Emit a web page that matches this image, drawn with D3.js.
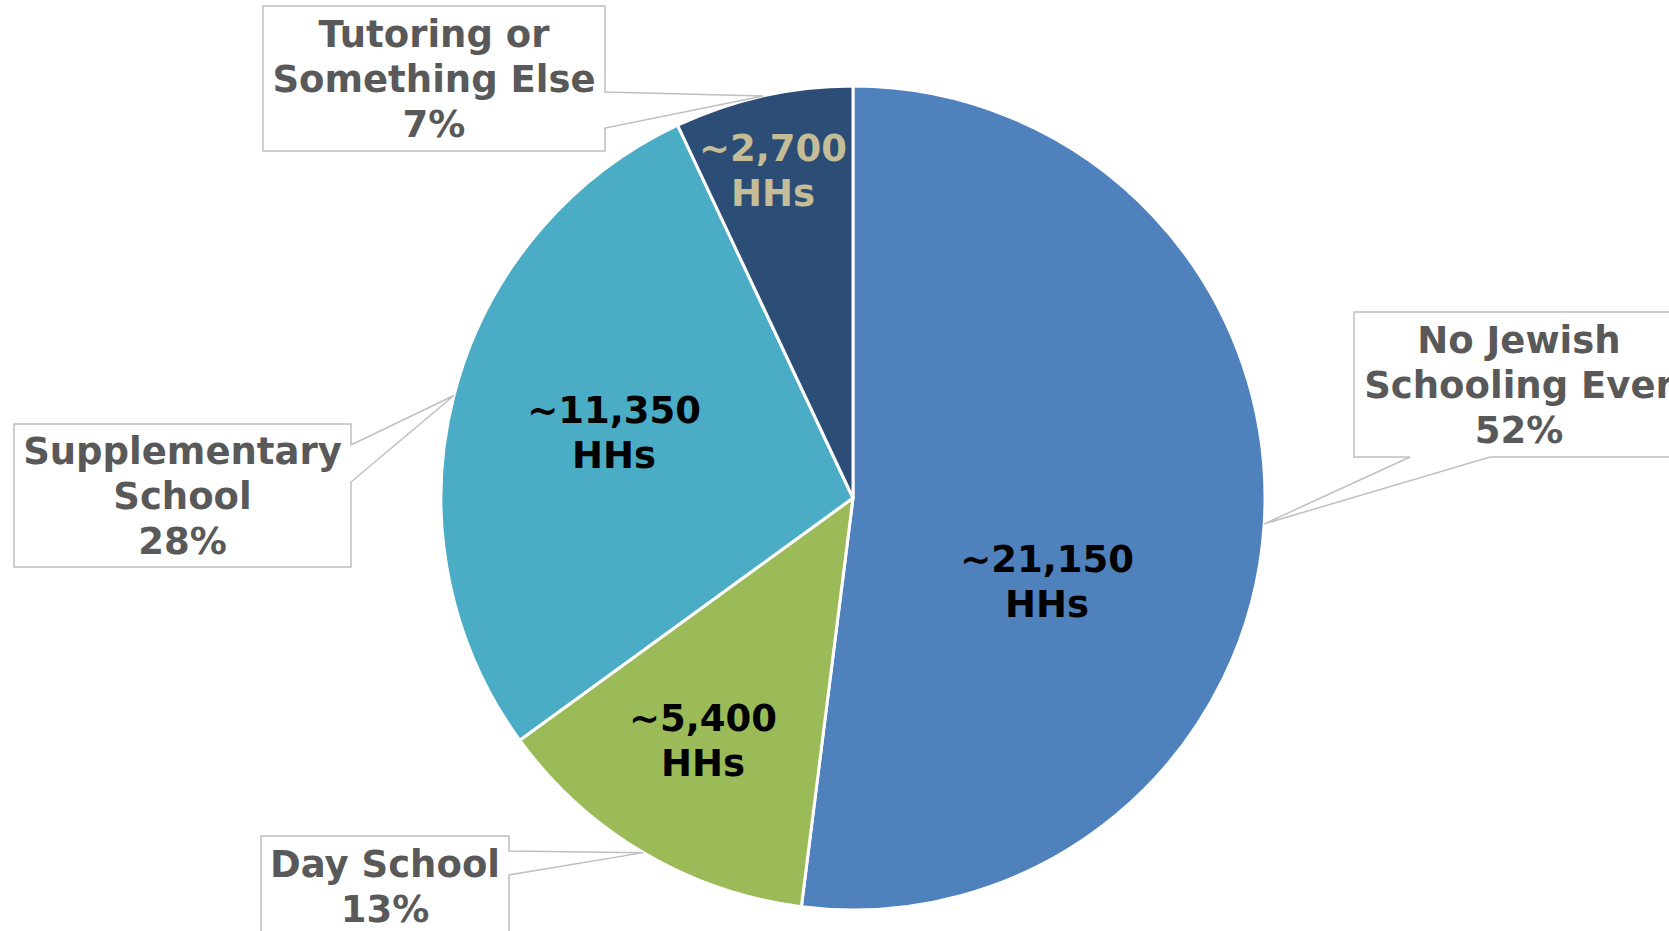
<!DOCTYPE html>
<html>
<head>
<meta charset="utf-8">
<script src="https://cdn.jsdelivr.net/npm/d3@7"></script>
<style>
  html, body { margin: 0; padding: 0; background: #ffffff; overflow: hidden; }
  svg { display: block; }
</style>
</head>
<body>
<svg id="chart" width="1669" height="931"></svg>
<script>
// ---- data ----
const categories = ["No Jewish Schooling Ever", "Day School", "Supplementary School", "Tutoring or Something Else"];
const percentages = [52, 13, 28, 7];
const households = [21150, 5400, 11350, 2700];
const valueLabels = ["~21,150", "~5,400", "~11,350", "~2,700"];
const pctLabels = ["52%", "13%", "28%", "7%"];
const calloutNames = [["No Jewish", "Schooling Ever"], ["Day School"], ["Supplementary", "School"], ["Tutoring or", "Something Else"]];

// ---- styles / layout ----
const colors = ["#4F81BD", "#9BBB59", "#4BACC6", "#2C4D75"];
const valueColors = ["#000000", "#000000", "#000000", "#C4BD97"];
const cx = 853, cy = 498, R = 412;
const fontFamily = "'DejaVu Sans', Verdana, sans-serif";
const fontSize = 37, lineGap = 45;

// value label offsets in units of radius from pie centre
const valueOffsets = [[0.471, 0.201], [-0.364, 0.587], [-0.580, -0.160], [-0.194, -0.796]];
// callout boxes: x, y, w, h, side of pointer, two attach offsets along that side
const callouts = [
  { x: 1354, y: 312, w: 330, h: 145, side: "bottom", a1: 56, a2: 136 },
  { x: 261, y: 836, w: 248, h: 100, side: "right", a1: 15, a2: 39 },
  { x: 14, y: 424, w: 337, h: 143, side: "right", a1: 21, a2: 58 },
  { x: 263, y: 6, w: 342, h: 145, side: "right", a1: 86, a2: 122 }
];

const svg = d3.select("#chart");

const pie = d3.pie().sort(null).value(d => d.value);
const data = categories.map((c, i) => ({ name: c, value: percentages[i], hh: households[i], i }));
const arcs = pie(data);
const arc = d3.arc().innerRadius(0).outerRadius(R);
const tipArc = d3.arc().innerRadius(R).outerRadius(R);

const g = svg.append("g").attr("transform", `translate(${cx},${cy})`);

g.selectAll("path.slice")
  .data(arcs)
  .join("path")
  .attr("class", "slice")
  .attr("d", arc)
  .attr("fill", d => colors[d.data.i])
  .attr("stroke", "#ffffff")
  .attr("stroke-width", 3)
  .attr("stroke-linejoin", "round");

// value labels inside slices
arcs.forEach(d => {
  const i = d.data.i;
  const [ox, oy] = valueOffsets[i];
  const t = g.append("text")
    .attr("x", ox * R)
    .attr("y", oy * R)
    .attr("text-anchor", "middle")
    .attr("font-family", fontFamily)
    .attr("font-weight", "bold")
    .attr("font-size", fontSize)
    .attr("fill", valueColors[i]);
  [valueLabels[i], "HHs"].forEach((line, k) => {
    t.append("tspan")
      .attr("x", ox * R)
      .attr("dy", k === 0 ? (-lineGap / 2 + fontSize * 0.36) : lineGap)
      .text(line);
  });
});

// callouts
arcs.forEach(d => {
  const i = d.data.i;
  const c = callouts[i];
  const [tx0, ty0] = tipArc.centroid(d);
  const tx = tx0 + cx, ty = ty0 + cy;
  let p;
  if (c.side === "right") {
    p = `M${c.x},${c.y}H${c.x + c.w}V${c.y + c.a1}L${tx},${ty}L${c.x + c.w},${c.y + c.a2}V${c.y + c.h}H${c.x}Z`;
  } else {
    p = `M${c.x},${c.y}H${c.x + c.w}V${c.y + c.h}H${c.x + c.a2}L${tx},${ty}L${c.x + c.a1},${c.y + c.h}H${c.x}Z`;
  }
  svg.append("path")
    .attr("d", p)
    .attr("fill", "#ffffff")
    .attr("stroke", "#BFBFBF")
    .attr("stroke-width", 1.5)
    .attr("stroke-linejoin", "miter");

  const lines = calloutNames[i].concat([pctLabels[i]]);
  const midX = c.x + c.w / 2, midY = c.y + c.h / 2;
  const t = svg.append("text")
    .attr("text-anchor", "middle")
    .attr("font-family", fontFamily)
    .attr("font-weight", "bold")
    .attr("font-size", fontSize)
    .attr("fill", "#595959");
  lines.forEach((line, k) => {
    t.append("tspan")
      .attr("x", midX)
      .attr("y", midY + (k - (lines.length - 1) / 2) * lineGap + fontSize * 0.36)
      .text(line);
  });
});
</script>
</body>
</html>
